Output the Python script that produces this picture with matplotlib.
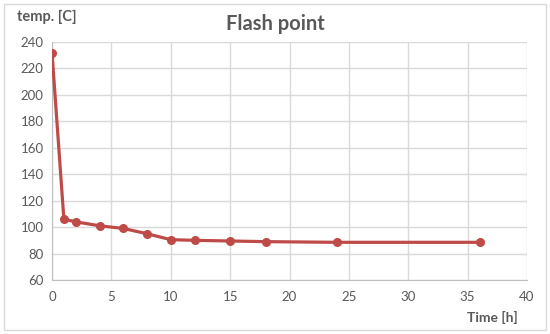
import matplotlib
matplotlib.use("Agg")
from matplotlib import pyplot as plt

# flash point measurements
time_h = [0, 1, 2, 4, 6, 8, 10, 12, 15, 18, 24, 36]
temp_c = [232, 106, 104, 101, 99, 95, 90.5, 90, 89.5, 89, 88.5, 88.5]

x_ticks = [0, 5, 10, 15, 20, 25, 30, 35, 40]
y_ticks = [60, 80, 100, 120, 140, 160, 180, 200, 220, 240]

plt.rcParams['font.family'] = ['Lato', 'DejaVu Sans']
grey_txt = '#595959'
grid_c = '#D9D9D9'

fig = plt.figure(figsize=(5.5, 3.34), dpi=100)
ax = fig.add_axes([52/550, 1 - 280/334, 475/550, 238/334])

ax.plot(time_h, temp_c, color='#BE4B48', lw=2.3, marker='o', ms=5.5,
        solid_joinstyle='round', zorder=3)

ax.set_xlim(0, 40)
ax.set_ylim(60, 240)
ax.set_xticks(x_ticks)
ax.set_yticks(y_ticks)
ax.grid(True, color=grid_c, lw=1)
ax.set_axisbelow(True)
for s in ['top', 'right']:
    ax.spines[s].set_visible(False)
for s in ['left', 'bottom']:
    ax.spines[s].set_color('#BFBFBF')
ax.tick_params(length=0, labelsize=9.5, colors=grey_txt, pad=8)
ax.tick_params(axis='y', pad=6)

fig.text(275/550, 1 - 24/334, 'Flash point', ha='center', va='center',
         fontsize=14.5, fontweight='bold', color=grey_txt)
fig.text(17/550, 1 - 17/334, 'temp. [C]', ha='left', va='center',
         fontsize=10.5, fontweight='bold', color=grey_txt)
fig.text(518/550, 1 - 317/334, 'Time [h]', ha='right', va='center',
         fontsize=10, fontweight='bold', color=grey_txt)

# outer chart border
fig.patches.append(plt.Rectangle((4/550, 4/334), 542/550, 326/334, fill=False,
                                 ec='#D9D9D9', lw=1, transform=fig.transFigure))

fig.savefig('out.png', dpi=100)
